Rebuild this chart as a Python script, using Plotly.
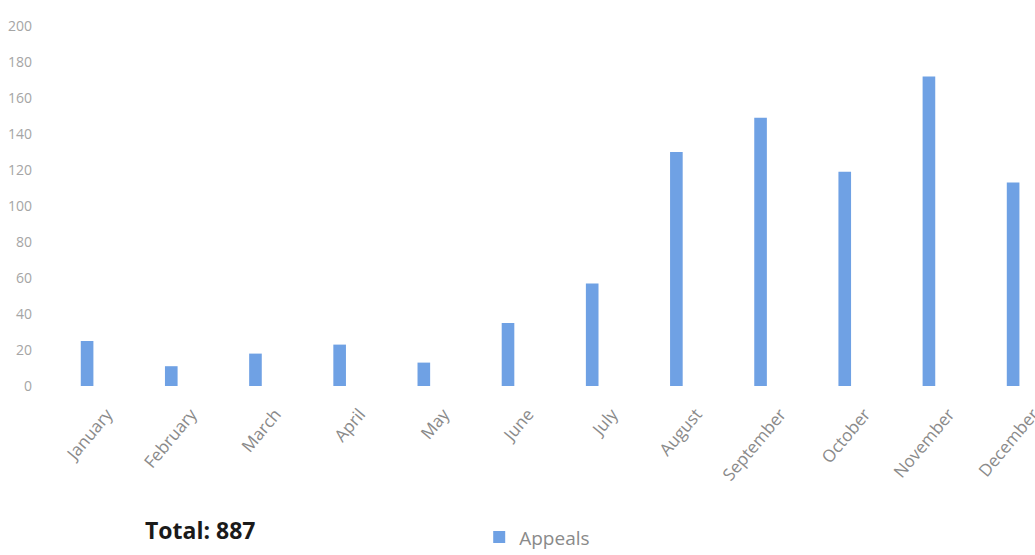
import plotly.graph_objects as go

months = ["January", "February", "March", "April", "May", "June", "July",
          "August", "September", "October", "November", "December"]
appeals = [25, 11, 18, 23, 13, 35, 57, 130, 149, 119, 172, 113]
y_ticks = [0, 20, 40, 60, 80, 100, 120, 140, 160, 180, 200]
total_label = "Total: 887"

fig = go.Figure()
fig.add_trace(go.Bar(
    x=months, y=appeals, name="Appeals",
    marker=dict(color="#6fa1e4", line=dict(width=0)),
    width=0.15,
))

fig.update_layout(
    width=1035, height=555,
    margin=dict(l=45, r=0, t=26, b=169, autoexpand=False),
    paper_bgcolor="white", plot_bgcolor="white",
    showlegend=True,
    legend=dict(orientation="h", xref="container", yref="container",
                x=0.463, y=0.032, xanchor="left", yanchor="middle",
                font=dict(family="Open Sans", size=19, color="#8a8a8a"),
                itemwidth=30),
    annotations=[dict(text="<b>" + total_label + "</b>", x=0.157, y=-0.4,
                      xref="paper", yref="paper", showarrow=False,
                      xanchor="center", yanchor="middle",
                      font=dict(family="Open Sans", size=23, color="#1a1a1a"))],
)
fig.update_xaxes(
    range=[-0.5, 11.26], showgrid=False, showline=False, zeroline=False,
    tickangle=-50, ticks="", ticklabelshift=20, ticklabelstandoff=14,
    automargin=False,
    tickfont=dict(family="Open Sans", size=17, color="#8a8a8a"),
)
fig.update_yaxes(
    range=[0, 200], tickvals=y_ticks, showgrid=False, showline=False, zeroline=False,
    ticks="", ticklabelstandoff=12, automargin=False,
    tickfont=dict(family="Open Sans", size=14, color="#a5a5a5"),
)

fig.write_html("out.html")
